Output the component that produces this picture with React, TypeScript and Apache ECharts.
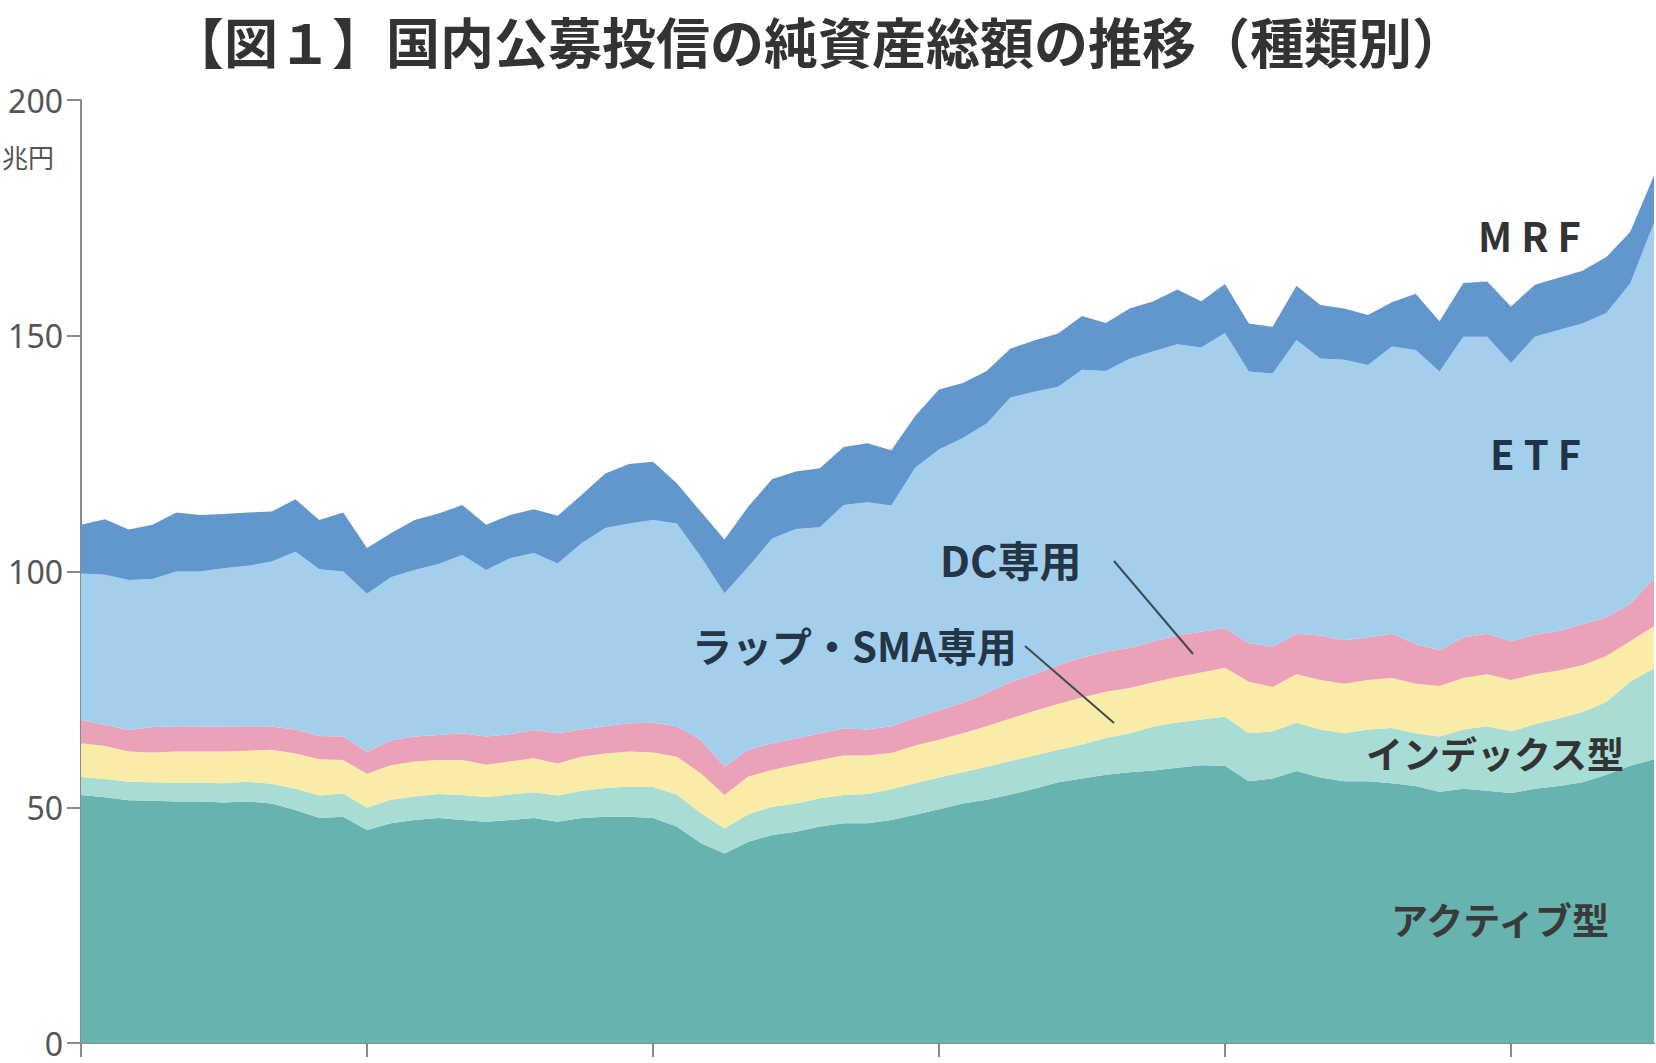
import React, { useEffect, useRef } from "react";
import * as echarts from "echarts";

// Monthly, 2017/12 .. 2023/06 (67 points), unit: 兆円
const months: string[] = [];
for (let k = 0; k < 67; k++) {
  const total = 2017 * 12 + 11 + k;
  const y = Math.floor(total / 12);
  const m = (total % 12) + 1;
  months.push(`${y}/${String(m).padStart(2, "0")}`);
}

const activeVals = [
  52.6, 52.1, 51.5, 51.4, 51.2, 51.2, 51.0, 51.2, 50.8, 49.4,
  47.7, 48.0, 45.2, 46.6, 47.3, 47.7, 47.3, 46.9, 47.3, 47.7,
  46.9, 47.7, 48.0, 48.0, 47.7, 45.9, 42.4, 40.2, 42.7, 44.1,
  44.8, 45.9, 46.6, 46.6, 47.3, 48.4, 49.6, 50.8, 51.6, 52.7,
  53.9, 55.3, 56.1, 56.9, 57.4, 57.8, 58.4, 58.9, 58.8, 55.5,
  56.1, 57.7, 56.3, 55.5, 55.5, 55.1, 54.5, 53.3, 53.9, 53.5,
  53.0, 53.9, 54.5, 55.3, 56.9, 58.8, 60.2,
];
const indexVals = [
  3.8, 3.9, 3.9, 3.9, 4.0, 4.0, 4.1, 4.2, 4.2, 4.5,
  4.8, 4.9, 4.7, 5.0, 5.0, 5.1, 5.3, 5.3, 5.4, 5.5,
  5.6, 5.8, 6.1, 6.4, 6.6, 6.8, 6.4, 5.3, 5.8, 6.0,
  6.0, 6.0, 6.0, 6.2, 6.5, 6.7, 6.7, 6.6, 7.0, 7.1,
  7.1, 6.9, 7.2, 7.8, 8.3, 9.3, 9.6, 9.7, 10.4, 10.2,
  10.0, 10.2, 10.2, 10.2, 11.0, 11.7, 11.2, 11.7, 12.6, 13.7,
  13.1, 13.7, 14.3, 14.9, 15.4, 17.8, 19.3,
];
const wrapVals = [
  7.2, 7.0, 6.4, 6.3, 6.6, 6.6, 6.7, 6.6, 7.2, 7.5,
  7.7, 7.1, 7.2, 7.3, 7.4, 7.2, 7.4, 6.8, 7.0, 7.2,
  6.8, 7.2, 7.3, 7.4, 7.3, 8.0, 8.4, 7.1, 8.0, 7.8,
  8.2, 8.1, 8.4, 8.2, 7.7, 8.0, 8.0, 8.3, 8.6, 9.0,
  9.4, 9.7, 10.0, 9.8, 9.6, 9.4, 9.6, 10.0, 10.4, 10.9,
  9.4, 10.3, 10.5, 10.5, 10.5, 10.6, 10.5, 10.7, 10.9, 11.0,
  10.9, 10.6, 10.2, 9.9, 9.8, 8.6, 8.9,
];
const dcVals = [
  4.9, 4.5, 4.6, 5.4, 5.4, 5.3, 5.3, 5.2, 4.9, 5.1,
  4.9, 5.0, 4.6, 5.3, 5.3, 5.3, 5.7, 6.0, 5.8, 6.0,
  6.4, 5.8, 5.8, 6.0, 6.3, 6.5, 7.1, 6.0, 5.7, 5.7,
  5.6, 5.7, 5.7, 5.5, 5.7, 5.9, 6.2, 6.4, 7.1, 7.7,
  7.8, 8.2, 8.4, 8.5, 8.5, 8.7, 8.8, 8.6, 8.4, 8.2,
  8.6, 8.6, 9.4, 9.2, 9.0, 9.4, 8.4, 7.6, 8.6, 8.6,
  8.2, 8.4, 8.4, 8.7, 8.2, 7.9, 10.1,
];
const etfVals = [
  31.1, 31.8, 31.8, 31.4, 32.8, 32.9, 33.6, 34.0, 35.0, 37.7,
  35.4, 35.0, 33.6, 34.6, 35.3, 36.3, 37.8, 35.3, 37.3, 37.5,
  36.0, 39.5, 42.0, 42.4, 43.0, 43.0, 38.9, 36.8, 38.8, 43.4,
  44.4, 43.7, 47.4, 48.2, 46.8, 53.0, 55.4, 56.2, 57.1, 60.4,
  59.9, 59.1, 61.1, 59.5, 61.3, 61.5, 61.8, 60.3, 62.6, 57.6,
  57.9, 62.3, 58.8, 59.5, 57.8, 60.9, 62.4, 59.1, 63.8, 63.0,
  59.0, 63.2, 63.8, 63.8, 64.5, 68.0, 75.4,
];
const mrfVals = [
  10.3, 11.8, 10.7, 11.5, 12.5, 12.0, 11.5, 11.3, 10.6, 11.1,
  10.4, 12.5, 9.7, 9.3, 10.6, 10.7, 10.6, 9.6, 9.2, 9.3,
  10.1, 10.2, 11.6, 12.6, 12.4, 8.5, 9.5, 11.4, 12.8, 12.6,
  12.2, 12.5, 12.3, 12.5, 11.7, 11.0, 12.7, 11.7, 11.1, 10.4,
  10.9, 11.3, 11.4, 10.2, 10.7, 10.6, 11.6, 9.8, 10.4, 10.2,
  9.9, 11.5, 11.3, 10.9, 10.6, 9.4, 11.9, 10.7, 11.4, 11.7,
  12.0, 11.0, 11.1, 11.2, 11.9, 10.9, 10.1,
];

const seriesNames = ["アクティブ型", "インデックス型", "ラップ・SMA専用", "DC専用", "ETF", "MRF"];
const seriesData = [activeVals, indexVals, wrapVals, dcVals, etfVals, mrfVals];
const seriesColors = ["#67b3ae", "#a7ddd4", "#f9eca6", "#eba2b8", "#a3cfed", "#6297ce"];

const yTicks = [0, 50, 100, 150, 200];
const titleText = "【図１】国内公募投信の純資産総額の推移（種類別）";
const unitText = "兆円";

const JP = '"Noto Sans CJK JP", "Noto Sans", sans-serif';

export default function App() {
  const ref = useRef<HTMLDivElement>(null);

  useEffect(() => {
    document.body.style.margin = "0";
    document.body.style.overflow = "hidden";
    if (!ref.current) return;
    const chart = echarts.init(ref.current, undefined, { renderer: "svg" });

    const label = (
      text: string,
      x: number,
      y: number,
      size: number,
      color: string
    ) => ({
      type: "text",
      x,
      y,
      silent: true,
      z: 100,
      style: {
        text,
        fill: color,
        font: `bold ${size}px ${JP}`,
        textAlign: "left",
        textVerticalAlign: "middle",
      },
    });

    chart.setOption({
      animation: false,
      backgroundColor: "#ffffff",
      grid: {
        left: 81,
        right: 2,
        top: 100,
        bottom: 20,
        containLabel: false,
        outerBoundsMode: "none",
      },
      xAxis: {
        type: "category",
        data: months,
        boundaryGap: false,
        axisLine: { show: true, lineStyle: { color: "#8a8a8a", width: 2 } },
        axisTick: {
          show: true,
          interval: 11,
          length: 14,
          lineStyle: { color: "#8a8a8a", width: 2 },
        },
        axisLabel: { show: false },
        splitLine: { show: false },
      },
      yAxis: {
        type: "value",
        min: yTicks[0],
        max: yTicks[yTicks.length - 1],
        interval: 50,
        axisLine: { show: true, lineStyle: { color: "#8a8a8a", width: 2 } },
        axisTick: { show: true, length: 14, lineStyle: { color: "#8a8a8a", width: 2 } },
        axisLabel: {
          margin: 18,
          fontSize: 32,
          color: "#555555",
          fontFamily: '"Noto Sans", sans-serif',
          verticalAlign: "middle",
        },
        splitLine: { show: false },
      },
      series: seriesNames.map((name, k) => ({
        name,
        type: "line",
        stack: "total",
        data: seriesData[k],
        symbol: "none",
        lineStyle: { width: 0, color: seriesColors[k] },
        itemStyle: { color: seriesColors[k] },
        areaStyle: { color: seriesColors[k], opacity: 1 },
        z: 2,
      })),
      graphic: [
        {
          type: "text",
          x: 818,
          y: 40,
          silent: true,
          style: {
            text: titleText,
            fill: "#333333",
            font: `bold 54px ${JP}`,
            textAlign: "center",
            textVerticalAlign: "middle",
          },
        },
        {
          type: "text",
          x: 2,
          y: 156,
          silent: true,
          style: {
            text: unitText,
            fill: "#555555",
            font: `26px ${JP}`,
            textAlign: "left",
            textVerticalAlign: "middle",
          },
        },
        label("M R F", 1478, 235, 40, "#333333"),
        label("E T F", 1490, 453, 40, "#1f3346"),
        label("DC専用", 940, 558, 42, "#233547"),
        label("ラップ・SMA専用", 692, 645, 40, "#233547"),
        label("インデックス型", 1366, 753, 37, "#333333"),
        label("アクティブ型", 1391, 919, 37, "#3a3a3a"),
        {
          type: "line",
          silent: true,
          z: 100,
          shape: { x1: 1114, y1: 561, x2: 1193, y2: 654 },
          style: { stroke: "#3e4a56", lineWidth: 2 },
        },
        {
          type: "line",
          silent: true,
          z: 100,
          shape: { x1: 1025, y1: 646, x2: 1114, y2: 723 },
          style: { stroke: "#3e4a56", lineWidth: 2 },
        },
      ],
    });

    return () => chart.dispose();
  }, []);

  return (
    <div
      ref={ref}
      style={{ position: "absolute", left: 0, top: 0, width: 1656, height: 1063 }}
    />
  );
}
